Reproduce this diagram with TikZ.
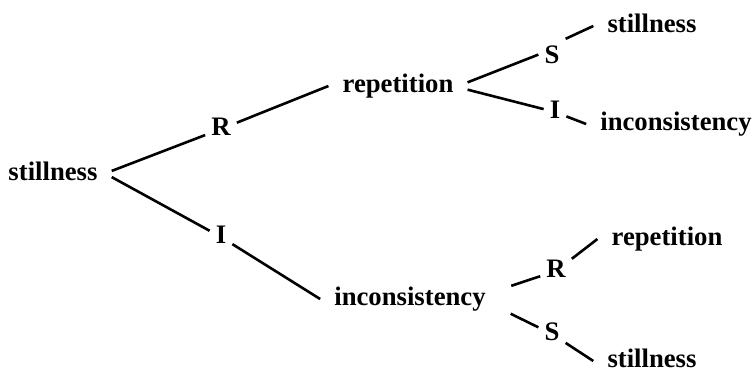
\documentclass[tikz,border=0pt]{standalone}
\usepackage{fontspec}
\setmainfont{Liberation Serif}
\tikzset{
    treeword/.style={font=\fontsize{26.7}{30}\selectfont\bfseries, inner xsep=14pt, inner ysep=3pt, text height=18pt, text depth=6pt},
    treeletter/.style={font=\fontsize{26.7}{30}\selectfont\bfseries, inner sep=6pt, text height=18pt, text depth=6pt},
    treeline/.style={line width=2.6pt}
}
\begin{document}
\begin{tikzpicture}[x=1pt, y=-1pt]
        \useasboundingbox (0,0) rectangle (754,373);
        \node[treeword] (root) at (53,174) {stillness};
        \node[treeletter] (rone) at (221,129) {R};
        \node[treeletter] (ione) at (221,237) {I};
        \node[treeword] (rep) at (398,86) {repetition};
        \node[treeword] (inc) at (410,299) {inconsistency};
        \node[treeletter] (srep) at (552,57) {S};
        \node[treeletter] (irep) at (555,112) {I};
        \node[treeword] (repstill) at (652,26) {stillness};
        \node[treeword] (repinc) at (676,124) {inconsistency};
        \node[treeletter] (rinc) at (556,271) {R};
        \node[treeletter] (sinc) at (552,334) {S};
        \node[treeword] (increp) at (667,239) {repetition};
        \node[treeword] (incstill) at (652,361) {stillness};
        \draw[treeline] (root.3) -- (rone);
        \draw[treeline] (rone) -- (rep.west);
        \draw[treeline] (root.-3) -- (ione);
        \draw[treeline] (ione) -- (inc.west);
        \draw[treeline] (rep.3) -- (srep.170);
        \draw[treeline] (srep.north east) -- (repstill.west);
        \draw[treeline] (rep.-3) -- (irep);
        \draw[treeline] (irep) -- (repinc.west);
        \draw[treeline, shorten <=12pt] (inc.6) -- (rinc);
        \draw[treeline] (rinc) -- (increp.west);
        \draw[treeline, shorten <=12pt] (inc.-6) -- (sinc);
        \draw[treeline] (sinc) -- (incstill.west);
    \end{tikzpicture}
\end{document}
